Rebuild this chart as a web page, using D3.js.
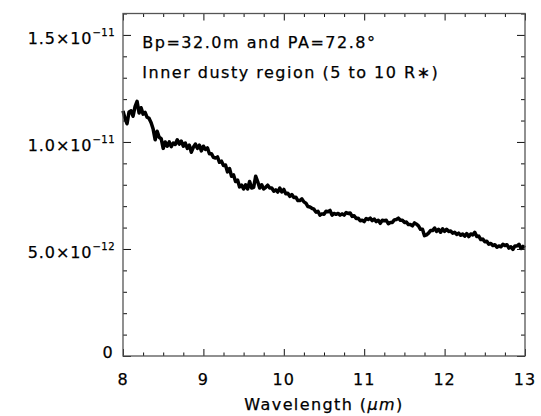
<!DOCTYPE html>
<html>
<head>
<meta charset="utf-8">
<script src="https://cdn.jsdelivr.net/npm/d3@7"></script>
<style>
  html, body { margin: 0; padding: 0; background: #fff; }
  svg { display: block; }
  text { font-family: "DejaVu Sans", sans-serif; fill: #000; stroke: #000; stroke-width: 0.25; }
</style>
</head>
<body>
<svg id="chart" width="541" height="416"></svg>
<script>
// Correlated flux spectrum (units of 1e-12), sampled every 0.025 µm from 8 to 13 µm
const fluxStart = 8.0;
const fluxStep = 0.025;
const flux = [
  11.45, 11.10, 10.85, 11.40, 11.45, 11.20, 11.65, 11.90, 11.35, 11.60,
  11.30, 11.38, 11.15, 11.10, 10.90, 10.60, 10.10, 10.50, 10.22, 10.15,
  9.70, 10.00, 9.80, 10.00, 9.78, 9.95, 9.88, 10.10, 9.90, 10.04,
  9.80, 9.95, 9.70, 9.85, 9.52, 9.75, 9.90, 9.70, 9.85, 9.58,
  9.80, 9.65, 9.72, 9.45, 9.45, 9.28, 9.25, 9.30, 9.05, 9.10,
  8.90, 8.92, 8.60, 8.76, 8.40, 8.46, 8.15, 8.22, 7.90, 7.98,
  7.80, 8.00, 7.80, 8.15, 7.85, 7.88, 8.40, 8.15, 7.85, 8.00,
  7.80, 7.88, 7.98, 7.85, 7.85, 7.70, 7.76, 7.66, 7.84, 7.66,
  7.78, 7.58, 7.60, 7.46, 7.54, 7.40, 7.42, 7.26, 7.26, 7.34,
  7.20, 7.14, 6.98, 6.96, 6.90, 6.86, 6.72, 6.76, 6.58, 6.64,
  6.62, 6.76, 6.74, 6.80, 6.58, 6.66, 6.62, 6.66, 6.58, 6.64,
  6.58, 6.70, 6.66, 6.68, 6.52, 6.55, 6.42, 6.44, 6.32, 6.34,
  6.28, 6.42, 6.38, 6.44, 6.32, 6.40, 6.28, 6.34, 6.20, 6.34,
  6.32, 6.34, 6.18, 6.24, 6.24, 6.36, 6.38, 6.44, 6.34, 6.34,
  6.24, 6.26, 6.14, 6.14, 6.08, 6.22, 6.16, 6.08, 5.92, 5.92,
  5.62, 5.66, 5.74, 5.86, 5.86, 5.98, 5.82, 5.92, 5.78, 5.94,
  5.82, 5.92, 5.82, 5.84, 5.74, 5.78, 5.68, 5.74, 5.64, 5.70,
  5.60, 5.72, 5.58, 5.70, 5.66, 5.78, 5.58, 5.60, 5.44, 5.46,
  5.34, 5.36, 5.22, 5.26, 5.16, 5.20, 5.08, 5.14, 5.10, 5.22,
  5.16, 5.20, 5.04, 5.10, 4.98, 5.14, 5.14, 5.22, 5.02, 5.12,
  5.06
];

// Axis ticks
const xMajor = [8, 9, 10, 11, 12, 13];
const xMinor = [8.25, 8.5, 8.75, 9.25, 9.5, 9.75, 10.25, 10.5, 10.75,
                11.25, 11.5, 11.75, 12.25, 12.5, 12.75];
const yMajor = [0, 5, 10, 15];
const yMajorLabels = [
  { mant: "0", exp: null },
  { mant: "5.0×10", exp: "−12" },
  { mant: "1.0×10", exp: "−11" },
  { mant: "1.5×10", exp: "−11" }
];
const yMinor = [1, 2, 3, 4, 6, 7, 8, 9, 11, 12, 13, 14, 16];

const annotations = ["Bp=32.0m and PA=72.8°", "Inner dusty region (5 to 10 R∗)"];

const W = 541, H = 416;
const margin = { left: 123, right: 16, top: 13.5, bottom: 60 };

const x = d3.scaleLinear().domain([8, 13]).range([margin.left, W - margin.right]);
const y = d3.scaleLinear().domain([0, 16]).range([H - margin.bottom, margin.top]);

const svg = d3.select("#chart");

const points = flux.map((v, i) => ({ wl: fluxStart + i * fluxStep, v }));

// spectrum
svg.append("path")
  .datum(points)
  .attr("fill", "none")
  .attr("stroke", "#000")
  .attr("stroke-width", 3.5)
  .attr("stroke-linejoin", "round")
  .attr("d", d3.line().x(d => x(d.wl)).y(d => y(d.v)));

// ticks on all four sides, pointing inward
const x0 = x.range()[0], x1 = x.range()[1];
const y0 = y.range()[0], y1 = y.range()[1];

function addAxis(axisGen, tf) {
  const g = svg.append("g").attr("transform", tf).call(axisGen);
  g.select(".domain").remove();
  g.selectAll(".tick line").attr("stroke", "#111");
  g.selectAll(".tick text").remove();
  return g;
}
addAxis(d3.axisBottom(x).tickValues(xMajor).tickSize(-7), `translate(0,${y0})`);
addAxis(d3.axisBottom(x).tickValues(xMinor).tickSize(-3.5), `translate(0,${y0})`);
addAxis(d3.axisTop(x).tickValues(xMajor).tickSize(-7), `translate(0,${y1})`);
addAxis(d3.axisTop(x).tickValues(xMinor).tickSize(-3.5), `translate(0,${y1})`);
addAxis(d3.axisLeft(y).tickValues(yMajor).tickSize(-8), `translate(${x0},0)`);
addAxis(d3.axisLeft(y).tickValues(yMinor).tickSize(-4), `translate(${x0},0)`);
addAxis(d3.axisRight(y).tickValues(yMajor).tickSize(-8), `translate(${x1},0)`);
addAxis(d3.axisRight(y).tickValues(yMinor).tickSize(-4), `translate(${x1},0)`);

// frame
svg.append("rect")
  .attr("x", x0).attr("y", y1)
  .attr("width", x1 - x0).attr("height", y0 - y1)
  .attr("fill", "none")
  .attr("stroke", "#555")
  .attr("stroke-width", 1.3);

// x tick labels
svg.append("g").selectAll("text")
  .data(xMajor)
  .join("text")
  .attr("x", d => x(d))
  .attr("y", y0 + 29)
  .attr("text-anchor", "middle")
  .attr("font-size", 16)
  .attr("letter-spacing", 1)
  .text(d => d);

// y tick labels with exponent
const yl = svg.append("g").selectAll("text")
  .data(yMajor.map((v, i) => ({ v, lab: yMajorLabels[i] })))
  .join("text")
  .attr("x", d => d.lab.exp ? x0 - 8 : x0 - 9.5)
  .attr("y", d => y(d.v) + (d.lab.exp ? 9.3 : 2.3))
  .attr("text-anchor", "end")
  .attr("font-size", 16)
  .attr("letter-spacing", 0.9);
yl.append("tspan").text(d => d.lab.mant);
yl.filter(d => d.lab.exp).append("tspan")
  .attr("dy", -8.5)
  .attr("font-size", 10)
  .attr("letter-spacing", 0.5)
  .text(d => d.lab.exp);

// x axis title
const xt = svg.append("text")
  .attr("x", (x0 + x1) / 2)
  .attr("y", 410)
  .attr("text-anchor", "middle")
  .attr("font-size", 16)
  .attr("letter-spacing", 1.4);
xt.append("tspan").text("Wavelength (");
xt.append("tspan").attr("font-style", "italic").text("μm");
xt.append("tspan").text(")");

// annotation lines
svg.append("g").selectAll("text")
  .data(annotations)
  .join("text")
  .attr("x", 142.3)
  .attr("y", (d, i) => 47.7 + i * 30.6)
  .attr("font-size", 16)
  .attr("letter-spacing", 1.5)
  .text(d => d);
</script>
</body>
</html>
